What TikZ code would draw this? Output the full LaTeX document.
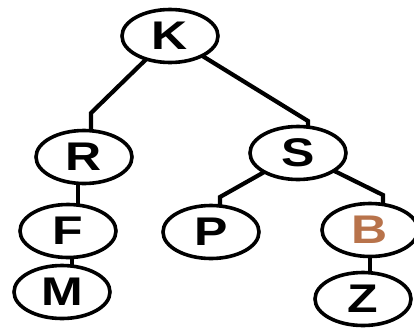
\documentclass[tikz,border=0pt]{standalone}
\usepackage{fontspec}
\setmainfont{Liberation Sans}
\usetikzlibrary{shapes.geometric,backgrounds}
\definecolor{bbrown}{RGB}{184,115,75}
\tikzset{
  tnode/.style={ellipse,draw=black,line width=3.6pt,fill=white,inner sep=0pt,
    minimum width=96pt,minimum height=53pt,
    font=\fontsize{40}{40}\selectfont\bfseries},
  tedge/.style={line width=4.2pt,line join=miter},
}
\newcommand{\wl}[1]{\scalebox{1.25}[1]{#1}}
\begin{document}
\begin{tikzpicture}[x=1pt,y=-1pt]
\useasboundingbox (0,0) rectangle (414,327);
\node[tnode] (K) at (170,36) {\wl{K}};
\node[tnode] (R) at (84,157) {\wl{R}};
\node[tnode] (S) at (298,153) {\wl{S}};
\node[tnode] (F) at (68,231) {\wl{F}};
\node[tnode] (P) at (211,232) {\wl{P}};
\node[tnode,text=bbrown] (B) at (370,230) {\wl{B}};
\node[tnode] (M) at (62,292) {\wl{M}};
\node[tnode] (Z) at (363,299) {\wl{Z}};
\coordinate (kr) at (91,113);
\coordinate (ks) at (308,121);
\coordinate (sp) at (220,197);
\coordinate (sb) at (383,195);
\coordinate (rf) at (78,193);
\coordinate (fm) at (72,262);
\coordinate (bz) at (370,265);
\begin{pgfonlayer}{background}
\draw[tedge] (K.center) -- (kr) -- (kr |- R.center);
\draw[tedge] (K.center) -- (ks) -- (ks |- S.center);
\draw[tedge] (S.center) -- (sp) -- (sp |- P.center);
\draw[tedge] (S.center) -- (sb) -- (sb |- B.center);
\draw[tedge] (rf |- R.center) -- (rf |- F.center);
\draw[tedge] (fm |- F.center) -- (fm |- M.center);
\draw[tedge] (bz |- B.center) -- (bz |- Z.center);
\end{pgfonlayer}
\end{tikzpicture}
\end{document}
